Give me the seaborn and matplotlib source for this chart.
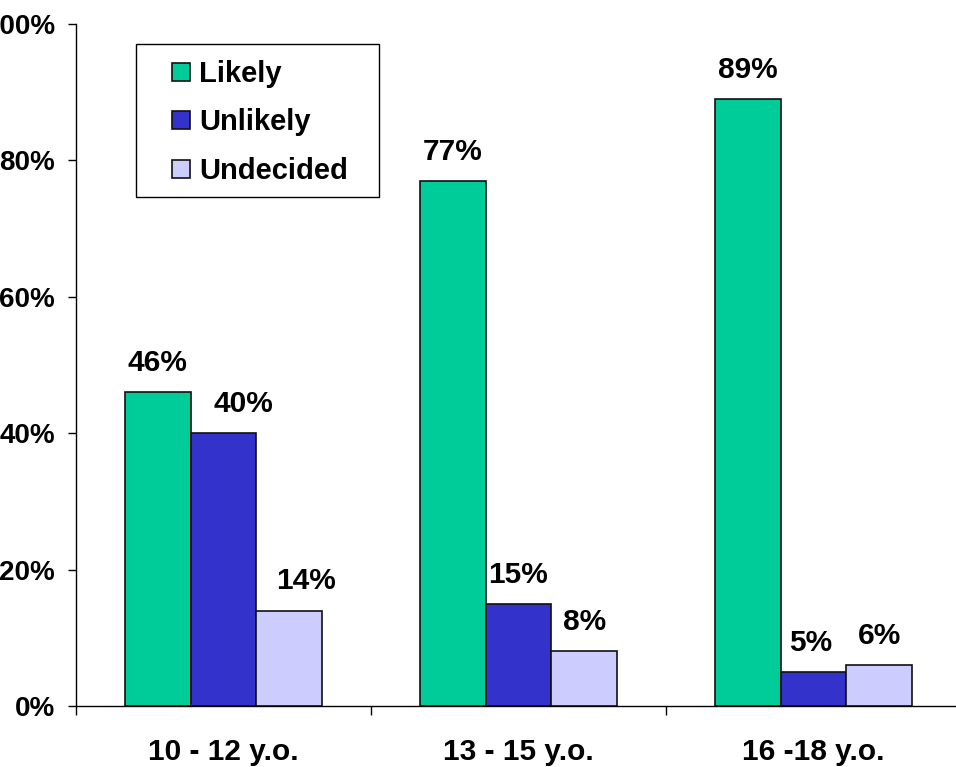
import pandas as pd
import matplotlib
matplotlib.use('Agg')
import matplotlib.pyplot as plt
from matplotlib.lines import Line2D
from matplotlib.patches import Rectangle
import seaborn as sns

# 数据
AGE_GROUPS = ['10 - 12 y.o.', '13 - 15 y.o.', '16 -18 y.o.']
ANSWERS = ['Likely', 'Unlikely', 'Undecided']
LIKELY = [46, 77, 89]
UNLIKELY = [40, 15, 5]
UNDECIDED = [14, 8, 6]
Y_TICKS = [0, 20, 40, 60, 80, 100]
Y_TICK_LABELS = ['0%', '20%', '40%', '60%', '80%', '100%']

COLORS = ['#00CC99', '#3333CC', '#CCCCFF']
# 数值标签的水平微调 (points)
LABEL_DX = [[0, 0, 0], [14, 0, -2], [12, 0, 0]]

sns.set_style('ticks')
plt.rcParams['font.family'] = ['Liberation Sans', 'DejaVu Sans']
plt.rcParams['font.weight'] = 'bold'
plt.rcParams['font.size'] = 21.5
plt.rcParams['text.color'] = 'black'
plt.rcParams['xtick.color'] = 'black'
plt.rcParams['ytick.color'] = 'black'
plt.rcParams['xtick.labelcolor'] = 'black'
plt.rcParams['ytick.labelcolor'] = 'black'

rows = []
for ans, vals in zip(ANSWERS, [LIKELY, UNLIKELY, UNDECIDED]):
    for age, v in zip(AGE_GROUPS, vals):
        rows.append({'age': age, 'answer': ans, 'pct': v})
df = pd.DataFrame(rows)

fig = plt.figure(figsize=(9.56, 7.67), dpi=100)
ax = fig.add_axes([76 / 956, 61 / 767, 885 / 956, 682 / 767])

sns.barplot(data=df, x='age', y='pct', hue='answer', order=AGE_GROUPS,
            hue_order=ANSWERS, palette=COLORS, width=0.67, edgecolor='#111111',
            linewidth=1.2, saturation=1, ax=ax, legend=False)

# 数值标签
for i, cont in enumerate(ax.containers):
    for j, bar in enumerate(cont):
        h = bar.get_height()
        ax.annotate(f'{h:.0f}%', (bar.get_x() + bar.get_width() / 2, h),
                    xytext=(LABEL_DX[i][j], 21), textcoords='offset points',
                    ha='center', va='center', fontsize=21.5, fontweight='bold',
                    color='black')

ax.set_xlim(-0.5, 2.5)
ax.set_ylim(0, 100)
ax.set_yticks(Y_TICKS)
ax.set_yticklabels(Y_TICK_LABELS, fontsize=20)
ax.set_xticks([0, 1, 2])
ax.set_xticks([-0.5, 0.5, 1.5, 2.5], minor=True)
ax.tick_params(axis='x', which='major', length=0, pad=23)
ax.tick_params(axis='x', which='minor', length=6.5, width=1, direction='out')
ax.tick_params(axis='y', length=6, width=1, direction='out', pad=9)
ax.set_xlabel('')
ax.set_ylabel('')
for s in ['top', 'right']:
    ax.spines[s].set_visible(False)
for s in ['left', 'bottom']:
    ax.spines[s].set_color('black')
    ax.spines[s].set_linewidth(1)

# 图例 (边框单独绘制, 左右留白比上下大)
PAD_X, PAD_TOP, PAD_BOTTOM = 31, 16, 12  # 像素
handles = [Line2D([], [], marker='s', linestyle='', markersize=12.5,
                  markerfacecolor=c, markeredgecolor='#111111', markeredgewidth=1.2)
           for c in COLORS]
leg = fig.legend(handles, ANSWERS, loc='upper left',
                 bbox_to_anchor=((136 + PAD_X) / 956, 1 - (44 + PAD_TOP) / 767),
                 borderaxespad=0, frameon=False, handlelength=0.95,
                 handletextpad=0.15, borderpad=0, labelspacing=0.7,
                 prop={'weight': 'bold', 'size': 21})
fig.canvas.draw()
bb = leg.get_window_extent()
W, H = fig.bbox.width, fig.bbox.height
fig.patches.append(Rectangle(((bb.x0 - PAD_X) / W, (bb.y0 - PAD_BOTTOM) / H),
                             (bb.width + 2 * PAD_X) / W,
                             (bb.height + PAD_TOP + PAD_BOTTOM) / H,
                             transform=fig.transFigure, facecolor='none',
                             edgecolor='black', linewidth=1, zorder=5))

fig.savefig('out.png', dpi=100)
